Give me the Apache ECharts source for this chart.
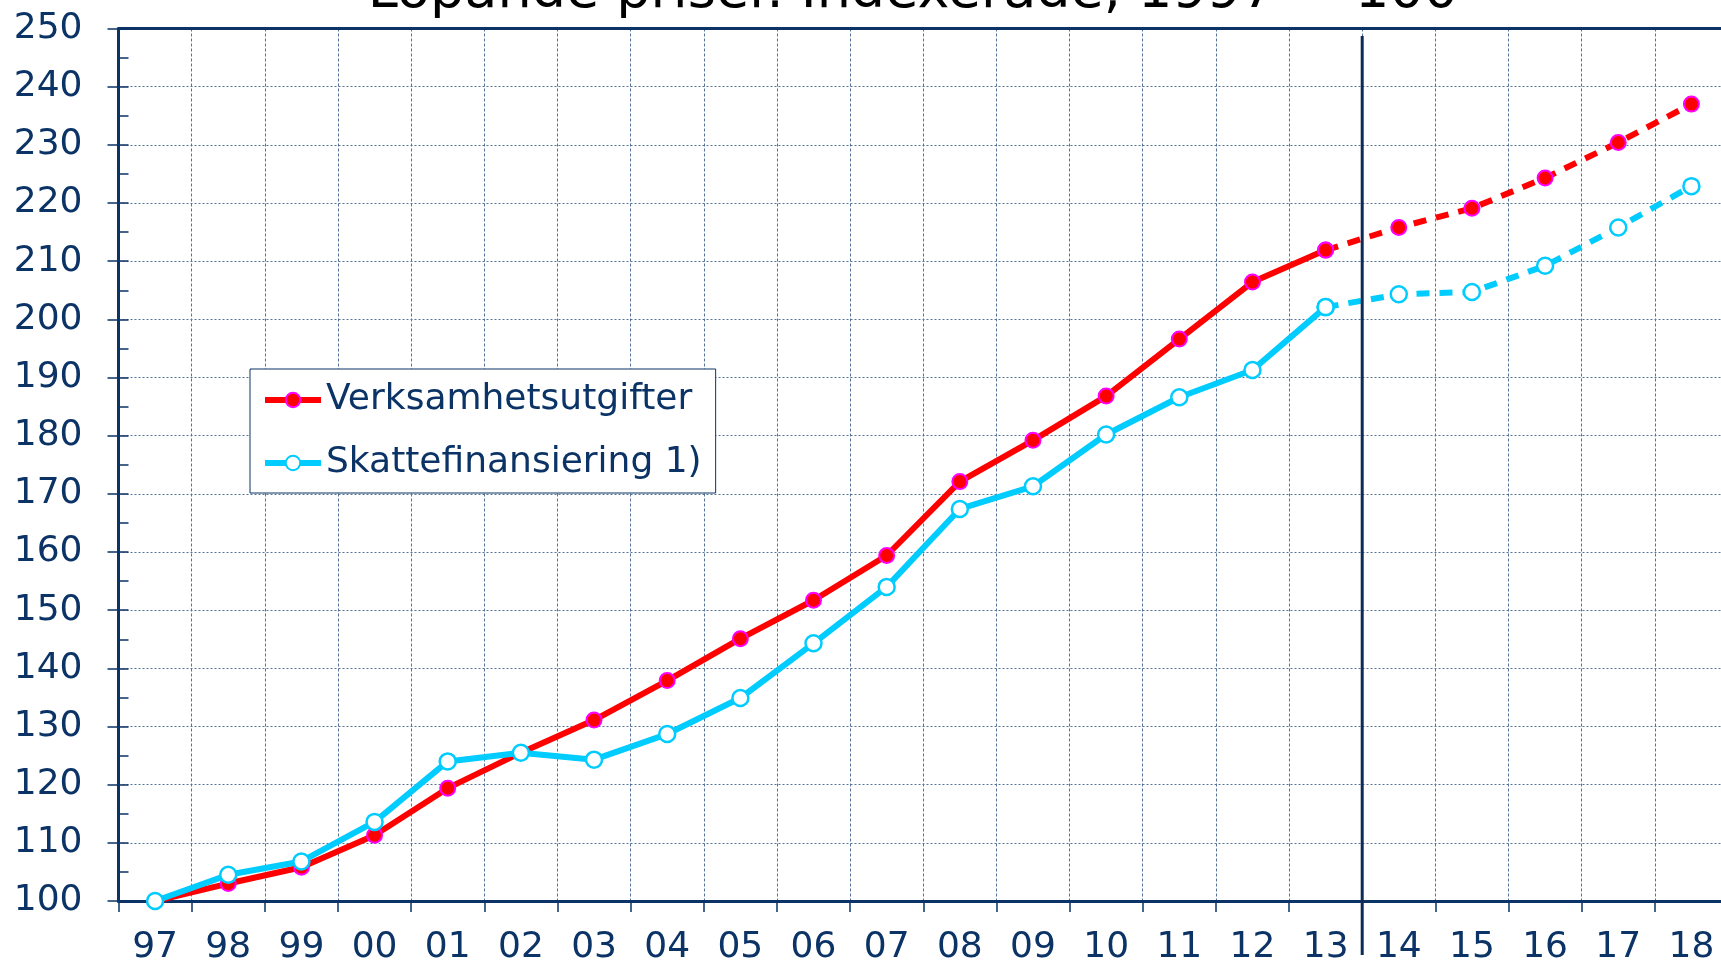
<!DOCTYPE html>
<html>
<head>
<meta charset="utf-8">
<script src="https://cdn.jsdelivr.net/npm/echarts@6/dist/echarts.min.js"></script>
<style>
  html, body { margin: 0; padding: 0; background: #fff; }
  #main { width: 1721px; height: 963px; }
</style>
</head>
<body>
<div id="main"></div>
<script>
// årtal (x-axel)
var years = ['97','98','99','00','01','02','03','04','05','06','07','08','09','10','11','12','13','14','15','16','17','18'];
// index 1997 = 100
var verksamhet = [100, 103.0, 105.8, 111.3, 119.4, 125.5, 131.1, 137.9, 145.1, 151.7, 159.4, 172.1, 179.2, 186.8, 196.6, 206.4, 211.9, 215.8, 219.1, 224.3, 230.4, 237.0];
var skatt = [100, 104.5, 106.8, 113.6, 124.0, 125.5, 124.3, 128.7, 134.9, 144.3, 154.0, 167.4, 171.3, 180.2, 186.6, 191.3, 202.1, 204.3, 204.7, 209.2, 215.8, 222.9];
var lastActual = 16; // '13' sista utfallsåret, prognos därefter

var navy = '#0b3366';
var font = 'DejaVu Sans';

function solid(arr) { return arr.map(function (v, i) { return i <= lastActual ? v : '-'; }); }
function dashed(arr) { return arr.map(function (v, i) { return i >= lastActual ? v : '-'; }); }

var redLine = { color: '#ff0000', width: 6 };
var redItem = { color: '#ff0000', borderColor: '#ff00ff', borderWidth: 2 };
var cyanLine = { color: '#00ccff', width: 6 };
var cyanItem = { color: '#ffffff', borderColor: '#00ccff', borderWidth: 2.5 };

var myChart = echarts.init(document.getElementById('main'));

var option = {
    animation: false,
    title: {
        text: 'Löpande priser. Indexerade, 1997 = 100',
        left: 908,
        textAlign: 'center',
        top: -39,
        textStyle: { fontFamily: font, fontSize: 54, fontWeight: 'normal', color: '#000' }
    },
    grid: { left: 118.5, right: -7, top: 28.5, bottom: 62, outerBoundsMode: 'none', containLabel: false },
    legend: {
        orient: 'vertical',
        left: 250,
        top: 369,
        padding: [10, 14, 9, 12],
        itemGap: 21,
        itemWidth: 56,
        itemHeight: 18,
        backgroundColor: '#fff',
        borderColor: navy,
        borderWidth: 1,
        borderRadius: 0,
        lineStyle: { width: 6 },
        data: ['Verksamhetsutgifter', 'Skattefinansiering 1)'],
        textStyle: { fontFamily: font, fontSize: 36, color: navy, lineHeight: 42, padding: [0, 0, 0, 0] }
    },
    xAxis: [{
        type: 'category',
        data: years,
        boundaryGap: true,
        axisLine: { lineStyle: { color: navy, width: 3 } },
        axisTick: { show: true, interval: 0, length: 11, lineStyle: { color: navy, width: 1.5 } },
        axisLabel: { interval: 0, margin: 29, fontFamily: font, fontSize: 36, color: navy },
        splitLine: { show: true, interval: 0, lineStyle: { color: '#56729a', width: 1, type: [3, 2] } }
    }, {
        type: 'category',
        data: years,
        position: 'top',
        axisLine: { lineStyle: { color: navy, width: 3 } },
        axisTick: { show: false },
        axisLabel: { show: false },
        splitLine: { show: false }
    }],
    yAxis: [{
        type: 'value',
        min: 100,
        max: 250,
        interval: 10,
        axisLine: { show: true, lineStyle: { color: navy, width: 3 } },
        axisTick: { show: true, length: 11, lineStyle: { color: navy, width: 1.5 } },
        axisLabel: { margin: 36, fontFamily: font, fontSize: 36, color: navy },
        splitLine: { show: true, lineStyle: { color: '#56729a', width: 1, type: [2, 2] } }
    }, {
        type: 'value',
        position: 'left',
        min: 100,
        max: 250,
        interval: 10,
        axisLine: { show: false },
        axisTick: { show: true, inside: true, length: 10, lineStyle: { color: navy, width: 1.5 } },
        minorTick: { show: true, splitNumber: 2, length: 10, lineStyle: { color: navy, width: 1.5 } },
        axisLabel: { show: false },
        splitLine: { show: false }
    }],
    series: [{
        name: 'Verksamhetsutgifter',
        type: 'line',
        data: solid(verksamhet),
        symbol: 'circle',
        symbolSize: 15,
        lineStyle: redLine,
        itemStyle: redItem,
        z: 3
    }, {
        name: 'Verksamhetsutgifter',
        type: 'line',
        data: dashed(verksamhet),
        symbol: 'circle',
        symbolSize: 15,
        lineStyle: Object.assign({}, redLine, { type: [13, 10] }),
        itemStyle: redItem,
        z: 3
    }, {
        name: 'Skattefinansiering 1)',
        type: 'line',
        data: solid(skatt),
        symbol: 'circle',
        symbolSize: 16,
        lineStyle: cyanLine,
        itemStyle: cyanItem,
        z: 4
    }, {
        name: 'Skattefinansiering 1)',
        type: 'line',
        data: dashed(skatt),
        symbol: 'circle',
        symbolSize: 16,
        lineStyle: Object.assign({}, cyanLine, { type: [13, 10] }),
        itemStyle: cyanItem,
        z: 4
    }]
};

myChart.setOption(option);

// skiljelinje mellan utfall och prognos (mellan 13 och 14)
var x13 = myChart.convertToPixel({ xAxisIndex: 0 }, '13');
var x14 = myChart.convertToPixel({ xAxisIndex: 0 }, '14');
var xDiv = (x13 + x14) / 2;
myChart.setOption({
    graphic: [{
        type: 'line',
        shape: { x1: xDiv, y1: 36, x2: xDiv, y2: 955 },
        style: { stroke: '#0d2b55', lineWidth: 3 },
        z: 10
    }]
});
</script>
</body>
</html>
